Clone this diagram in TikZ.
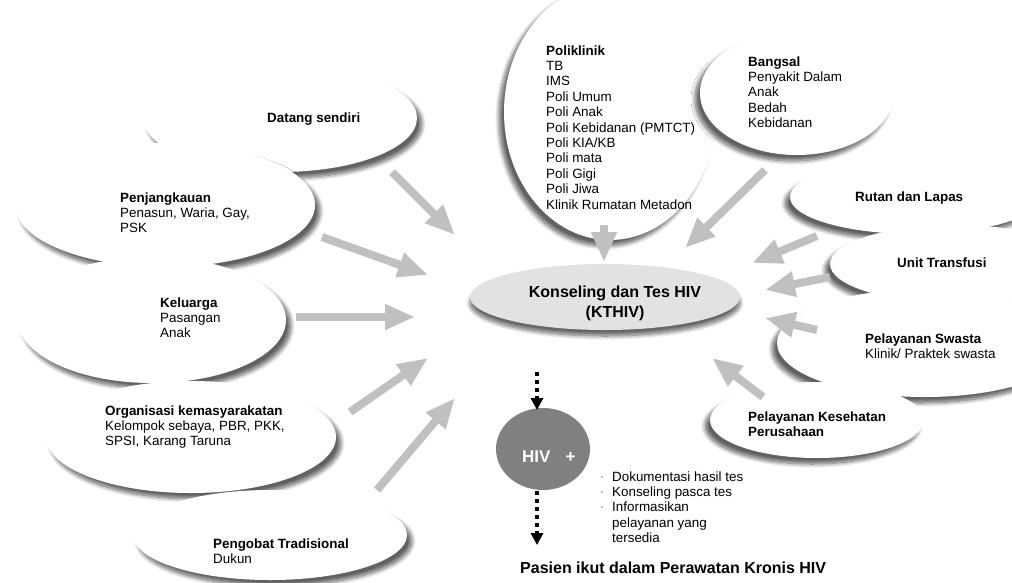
\documentclass[tikz,border=0pt]{standalone}
\usepackage{fontspec}
\setmainfont{Liberation Sans}
\usetikzlibrary{shapes.geometric,arrows.meta,shadows.blur}
\definecolor{arrowgray}{RGB}{192,192,192}
\definecolor{centerfill}{RGB}{226,226,226}
\definecolor{hivfill}{RGB}{128,128,128}
\newcommand{\lns}[1]{\begin{tabular}[t]{@{}l@{}}#1\end{tabular}}
\begin{document}
\begin{tikzpicture}[x=1pt,y=-1pt,
  bubble/.style={ellipse, fill=white, inner sep=0pt},
  bubbleL/.style={bubble,
    blur shadow={shadow xshift=5pt, shadow yshift=-6pt, shadow blur radius=4pt, shadow blur steps=10, shadow opacity=62}},
  bubbleR/.style={bubble,
    blur shadow={shadow xshift=-5pt, shadow yshift=-6pt, shadow blur radius=4pt, shadow blur steps=10, shadow opacity=62}},
  bubbleC/.style={bubble,
    blur shadow={shadow xshift=0pt, shadow yshift=-6pt, shadow blur radius=4pt, shadow blur steps=10, shadow opacity=60}},
  lbl/.style={anchor=base west, inner sep=0pt, font=\fontsize{13.4}{15.4}\selectfont},
  feed/.style={draw=arrowgray, line width=8pt, -{Triangle[width=24pt,length=30pt]}},
  dotarrow/.style={draw=black, line width=3.5pt, dash pattern=on 4pt off 4pt, -{Triangle[width=12pt,length=12pt]}},
  bul/.style={circle, fill=gray, inner sep=0pt, minimum size=1.8pt},
]
\useasboundingbox (0,0) rectangle (1012,582);
\clip (0,0) rectangle (1012,582);

% left bubbles
\node[bubbleL, minimum width=274pt, minimum height=108pt] (e1) at (280,118) {};
\node[lbl] (t1) at (267,122) {\bfseries Datang sendiri};
\node[bubbleL, minimum width=300pt, minimum height=124pt] (e2) at (165,205) {};
\node[lbl] (t2) at (120,202) {\lns{\bfseries Penjangkauan\\Penasun, Waria, Gay,\\PSK}};
\node[bubbleL, minimum width=268pt, minimum height=126pt] (e3) at (152,320) {};
\node[lbl] (t3) at (160,307) {\lns{\bfseries Keluarga\\Pasangan\\Anak}};
\node[bubbleL, minimum width=290pt, minimum height=112pt] (e4) at (191,437) {};
\begin{scope}
\clip (100,380) rectangle (320,447);
\node[lbl] (t4) at (105,415) {\lns{\bfseries Organisasi kemasyarakatan\\Kelompok sebaya, PBR, PKK,\\SPSI, Karang Taruna}};
\end{scope}
\node[bubbleL, minimum width=274pt, minimum height=90pt] (e5) at (270,535) {};
\node[lbl] (t5) at (213,548) {\lns{\bfseries Pengobat Tradisional\\Dukun}};

% top bubbles
\node[bubbleR, minimum width=212pt, minimum height=256pt] (e6) at (610,112) {};
\node[lbl] (t6) at (546,55) {\lns{\bfseries Poliklinik\\TB\\IMS\\Poli Umum\\Poli Anak\\Poli Kebidanan (PMTCT)\\Poli KIA/KB\\Poli mata\\Poli Gigi\\Poli Jiwa\\Klinik Rumatan Metadon}};
\node[bubbleR, minimum width=194pt, minimum height=124pt] (e7) at (797,93) {};
\node[lbl] (t7) at (748,66) {\lns{\bfseries Bangsal\\Penyakit Dalam\\Anak\\Bedah\\Kebidanan}};

% right bubbles
\node[bubbleR, minimum width=250pt, minimum height=74pt] (e8) at (915,197) {};
\node[lbl] (t8) at (855,201) {\bfseries Rutan dan Lapas};
\node[bubbleR, minimum width=250pt, minimum height=78pt] (e9) at (955,264) {};
\node[lbl] (t9) at (897,267) {\bfseries Unit Transfusi};
\node[bubbleR, minimum width=296pt, minimum height=108pt] (e10) at (925,343) {};
\node[lbl] (t10) at (865,343) {\lns{\bfseries Pelayanan Swasta\\Klinik/ Praktek swasta}};
\node[bubbleR, minimum width=214pt, minimum height=76pt] (e11) at (817,420) {};
\node[lbl] (t11) at (748,421) {\lns{\bfseries Pelayanan Kesehatan\\\bfseries Perusahaan}};

% centre
\node[bubbleC, fill=centerfill, minimum width=270pt, minimum height=66pt] (kt) at (605,297) {};
\node[anchor=base, inner sep=0pt, font=\bfseries\fontsize{16}{20}\selectfont] (ktt) at (615,297)
  {\begin{tabular}[t]{@{}c@{}}Konseling dan Tes HIV\\(KTHIV)\end{tabular}};

% HIV +
\node[ellipse, fill=hivfill, inner sep=0pt, minimum width=94pt, minimum height=82pt] (hiv) at (543,449) {};
\node[anchor=base west, inner sep=0pt, text=white, font=\bfseries\fontsize{17}{20}\selectfont] (hivt) at (522,462) {HIV\hspace{15pt}+};

\coordinate (d1s) at (537,372);
\coordinate (d1e) at (537,410);
\coordinate (d2s) at (537,491);
\coordinate (d2e) at (537,545);
\draw[dotarrow] (d1s) -- (d1e);
\draw[dotarrow] (d2s) -- (d2e);

% bullet list
\node[bul] (b1) at (602,477) {};
\node[bul] (b2) at (602,492) {};
\node[bul] (b3) at (602,507) {};
\node[lbl] (bl) at (612,481) {\lns{Dokumentasi hasil tes\\Konseling pasca tes\\Informasikan\\pelayanan yang\\tersedia}};

\node[anchor=base west, inner sep=0pt, font=\bfseries\fontsize{16}{19}\selectfont] (title) at (520,573) {Pasien ikut dalam Perawatan Kronis HIV};

% gray arrows
\coordinate (a1s) at (392,172); \coordinate (a1e) at (455,235);
\coordinate (a2s) at (322,237); \coordinate (a2e) at (428,275);
\coordinate (a3s) at (296,317); \coordinate (a3e) at (415,317);
\coordinate (a4s) at (350,412); \coordinate (a4e) at (428,358);
\coordinate (a5s) at (377,490); \coordinate (a5e) at (455,398);
\coordinate (a6s) at (604,225); \coordinate (a6e) at (604,262);
\coordinate (a7s) at (765,170); \coordinate (a7e) at (685,248);
\coordinate (a8s) at (817,236); \coordinate (a8e) at (752,263);
\coordinate (a9s) at (830,277); \coordinate (a9e) at (765,290);
\coordinate (a10s) at (817,330); \coordinate (a10e) at (765,318);
\coordinate (a11s) at (763,397); \coordinate (a11e) at (712,358);
\foreach \i in {1,...,11} {\draw[feed] (a\i s) -- (a\i e);}
\end{tikzpicture}
\end{document}
